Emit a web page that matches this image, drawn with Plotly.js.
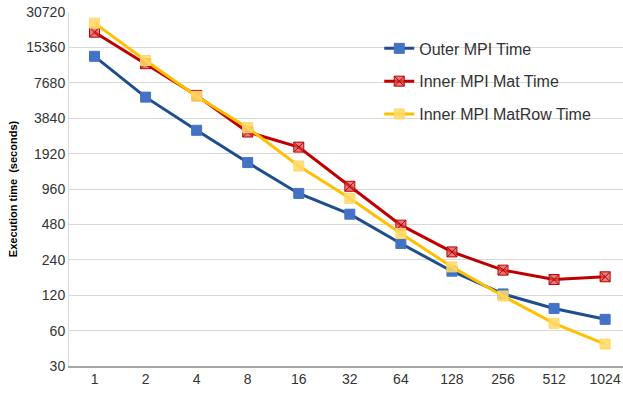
<!DOCTYPE html>
<html><head><meta charset="utf-8">
<script src="https://cdn.plot.ly/plotly-3.0.1.min.js"></script>
<style>html,body{margin:0;padding:0;background:#fff;}#chart{width:623px;height:398px;}</style>
</head><body><div id="chart"></div>
<script>
const categories = ["1","2","4","8","16","32","64","128","256","512","1024"];
const outerMPI = [12900, 5800, 3030, 1610, 880, 586, 330, 192, 123, 92.6, 74.8];
const innerMat = [20700, 11160, 6000, 2930, 2180, 1013, 473, 280, 196, 163, 172];
const innerMatRow = [24700, 11900, 5890, 3190, 1506, 800, 401, 209, 118, 69.2, 46.1];
const yTicks = [30, 60, 120, 240, 480, 960, 1920, 3840, 7680, 15360, 30720];

const idx = categories.map((c, i) => i);
const traces = [
  {x: idx, y: outerMPI, name: "Outer MPI Time", mode: "lines+markers", legendgroup: "a",
   line: {color: "#1F4E8C", width: 3},
   marker: {symbol: "square", size: 10, color: "#4472C4", line: {color: "#4472C4", width: 1}}},
  {x: idx, y: innerMat, name: "Inner MPI Mat Time", mode: "lines+markers", legendgroup: "b",
   line: {color: "#C00000", width: 3},
   marker: {symbol: "square-x", size: 10, color: "rgba(214,80,80,0.75)", line: {color: "#C00000", width: 1}}},
  {x: idx, y: innerMatRow, name: "Inner MPI MatRow Time", mode: "lines+markers", legendgroup: "c",
   line: {color: "#FFC000", width: 3},
   marker: {symbol: "square", size: 10, color: "rgba(255,217,102,0.85)", line: {color: "#FFD966", width: 1}}}
];
const layout = {
  width: 623, height: 398,
  margin: {l: 69, r: 0, t: 12, b: 32},
  paper_bgcolor: "#fff", plot_bgcolor: "#fff",
  font: {family: "Liberation Sans, Arial, sans-serif", color: "#333"},
  showlegend: true,
  legend: {x: 0.56, y: 0.945, xanchor: "left", yanchor: "top", bgcolor: "rgba(255,255,255,0)",
           font: {size: 16, color: "#333"}, tracegroupgap: 9, itemwidth: 30},
  xaxis: {range: [-0.5, 10.35], tickmode: "array", tickvals: idx, ticktext: categories,
          showgrid: false, zeroline: false, showline: true, linecolor: "#A6A6A6", linewidth: 1.5,
          ticks: "", tickfont: {size: 14, color: "#333"}, fixedrange: true},
  yaxis: {type: "log", range: [Math.log10(30), Math.log10(30720)],
          tickmode: "array", tickvals: yTicks, ticktext: yTicks.map(String),
          showgrid: true, gridcolor: "#D9D9D9", gridwidth: 1, zeroline: false,
          showline: true, linecolor: "#D9D9D9", linewidth: 1, ticks: "",
          tickfont: {size: 14, color: "#333"},
          title: {text: "Execution time  (seconds)", font: {size: 11, color: "#000", family: "Liberation Sans, Arial, sans-serif", weight: "bold"}, standoff: 6}}
};
Plotly.newPlot("chart", traces, layout, {displayModeBar: false, staticPlot: true});
</script></body></html>
